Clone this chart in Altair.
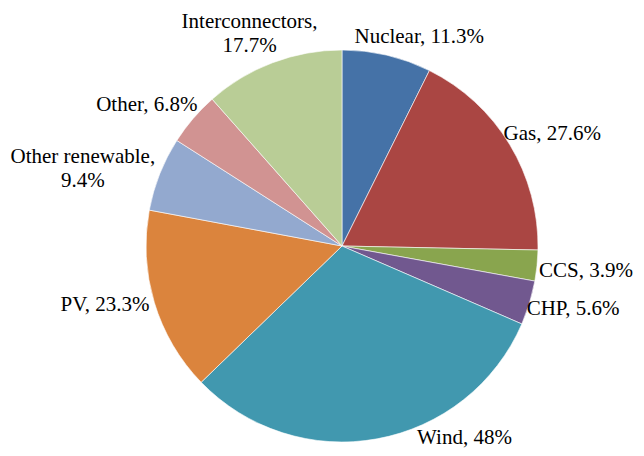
import altair as alt
import pandas as pd

categories = ["Nuclear", "Gas", "CCS", "CHP", "Wind", "PV",
              "Other renewable", "Other", "Interconnectors"]
values = [11.3, 27.6, 3.9, 5.6, 48, 23.3, 9.4, 6.8, 17.7]
labels = ["Nuclear, 11.3%", "Gas, 27.6%", "CCS, 3.9%", "CHP, 5.6%", "Wind, 48%",
          "PV, 23.3%", "Other renewable,\n9.4%", "Other, 6.8%", "Interconnectors,\n17.7%"]
colors = ["#4572A7", "#AA4643", "#89A54E", "#71588F", "#4198AF",
          "#DB843D", "#93A9CF", "#D19392", "#B9CD96"]

df = pd.DataFrame({
    "category": categories,
    "value": values,
    "label": labels,
    "order": list(range(len(categories))),
})

base = alt.Chart(df).encode(
    theta=alt.Theta("value:Q", stack=True),
    order=alt.Order("order:Q", sort="ascending"),
)

pie = base.mark_arc(radius=196, stroke="white", strokeWidth=0.6).encode(
    color=alt.Color("category:N", scale=alt.Scale(domain=categories, range=colors), legend=None)
)

# label placement styles (mark properties), one per category
label_style = {
    "Nuclear": dict(radius=216, align="left", dx=-37, dy=1),
    "Gas": dict(radius=218, align="left", dx=-25, dy=1),
    "CCS": dict(radius=199, align="left", dx=-1, dy=5),
    "CHP": dict(radius=193, align="left", dx=0, dy=7),
    "Wind": dict(radius=196, align="left", dx=40, dy=-1),
    "PV": dict(radius=200, align="right", dx=-1, dy=1),
    "Other renewable": dict(radius=212, align="center", dx=-62, dy=-11),
    "Other": dict(radius=210, align="right", dx=15, dy=-4),
    "Interconnectors": dict(radius=230, align="center", dx=-11, dy=-9),
}

texts = []
for cat in categories:
    st = label_style[cat]
    t = base.mark_text(
        baseline="middle", font="Liberation Serif", fontSize=21,
        lineBreak="\n", lineHeight=24, color="black", **st
    ).encode(
        text=alt.condition(alt.datum.category == cat, "label:N", alt.value(""))
    )
    texts.append(t)

chart = alt.layer(pie, *texts).properties(
    width=588, height=404,
    padding={"left": 40, "top": 36, "right": 0, "bottom": 0},
    autosize=alt.AutoSizeParams(type="none"),
).configure_view(stroke=None)

chart.save("out.html", embed_options={"renderer": "svg", "actions": False})
